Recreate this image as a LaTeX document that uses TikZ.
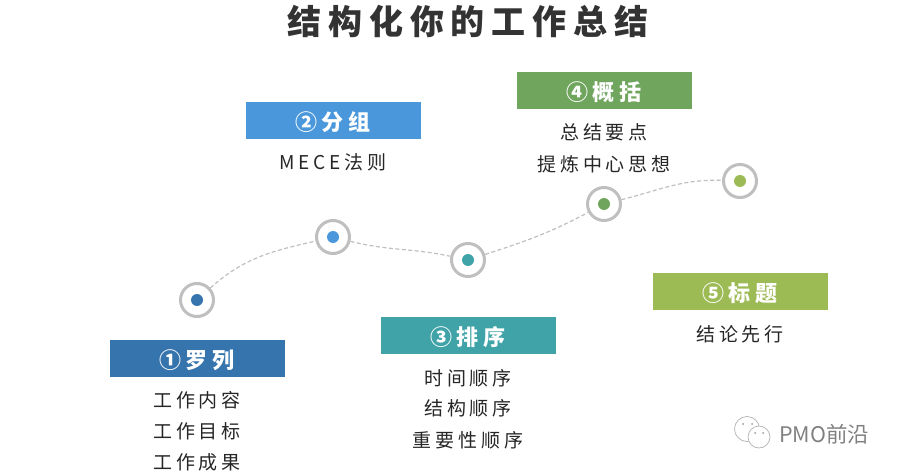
\documentclass[tikz,border=0pt]{standalone}
\usepackage{fontspec}
\usepackage{xcolor}
\usepackage{tikz}
\newfontfamily\cjk[LetterSpace=20]{Noto Sans CJK SC}
\newfontfamily\cjkplain{Noto Sans CJK SC}

\definecolor{colA}{HTML}{3574AD}
\definecolor{colB}{HTML}{4A98DB}
\definecolor{colC}{HTML}{3FA3A8}
\definecolor{colD}{HTML}{70A55E}
\definecolor{colE}{HTML}{9DBB55}
\definecolor{ringgray}{HTML}{BFBFBF}

\tikzset{
    headbox/.style={minimum width=175pt, minimum height=37pt, inner sep=0pt, text=white,
        text height=20pt, text depth=0pt,
        font=\cjk\fontsize{22}{26}\selectfont\bfseries},
    bodytext/.style={inner sep=0pt, text=black!85, font=\cjk\fontsize{19}{22}\selectfont},
    ring/.style={circle, draw=ringgray, line width=3pt, fill=white, minimum size=33pt, inner sep=0pt},
    dot/.style={circle, minimum size=12pt, inner sep=0pt},
    link/.style={ringgray, dash pattern=on 4pt off 2.5pt, line width=1.2pt},
    bubble/.style={circle, draw=black!30, fill=white, line width=0.7pt, inner sep=0pt},
    eye/.style={circle, fill=black!40, minimum size=2pt, inner sep=0pt}
}

\begin{document}
\begin{tikzpicture}[x=1pt, y=-1pt]
    \useasboundingbox (0,0) rectangle (897,473);

    \node[inner sep=0pt, text=black!80, font=\cjk\fontsize{34}{40}\selectfont\bfseries] (title) at (468,21) {结构化你的工作总结};

    \foreach \idx/\cx/\cy/\col/\head/\by/\lines in {
        1/197/300/colA/{①罗列}/358/{400/工作内容,431/工作目标,462/工作成果},
        2/333/237/colB/{②分组}/120.5/{162/MECE法则},
        3/468/260/colC/{③排序}/335/{378/时间顺序,408/结构顺序,440/重要性顺序},
        4/604/204/colD/{④概括}/90.5/{132/总结要点,164/提炼中心思想},
        5/740/181/colE/{⑤标题}/291/{334/结论先行}} {
        \node[ring] (ring\idx) at (\cx,\cy) {};
        \node[dot, fill=\col] (dot\idx) at (ring\idx) {};
        \node[headbox, fill=\col] (head\idx) at (\cx,\by) {\head};
        \foreach \ly/\line [count=\k] in \lines {
            \node[bodytext] (text\idx\k) at (\cx,\ly) {\line};
        }
    }

    % dashed path between the rings
    \draw[link] (ring1) to[out=42, in=193] (ring2);
    \draw[link] (ring2) to[out=-14, in=168] (ring3);
    \draw[link] (ring3) to[out=18, in=208] (ring4);
    \draw[link] (ring4) to[out=14, in=178] (ring5);

    % watermark
    \node[bubble, minimum size=25pt] (bubbleA) at (747,429) {};
    \node[bubble, minimum size=22pt] (bubbleB) at (759,437) {};
    \node[eye] (eyeA) at (743,424) {};
    \node[eye] (eyeB) at (752,424) {};
    \node[eye] (eyeC) at (755,433) {};
    \node[eye] (eyeD) at (763,433) {};
    \node[anchor=west, inner sep=0pt, text=black!50, font=\cjkplain\fontsize{21.5}{24}\selectfont] (mark) at (779,434) {PMO前沿};
\end{tikzpicture}
\end{document}
